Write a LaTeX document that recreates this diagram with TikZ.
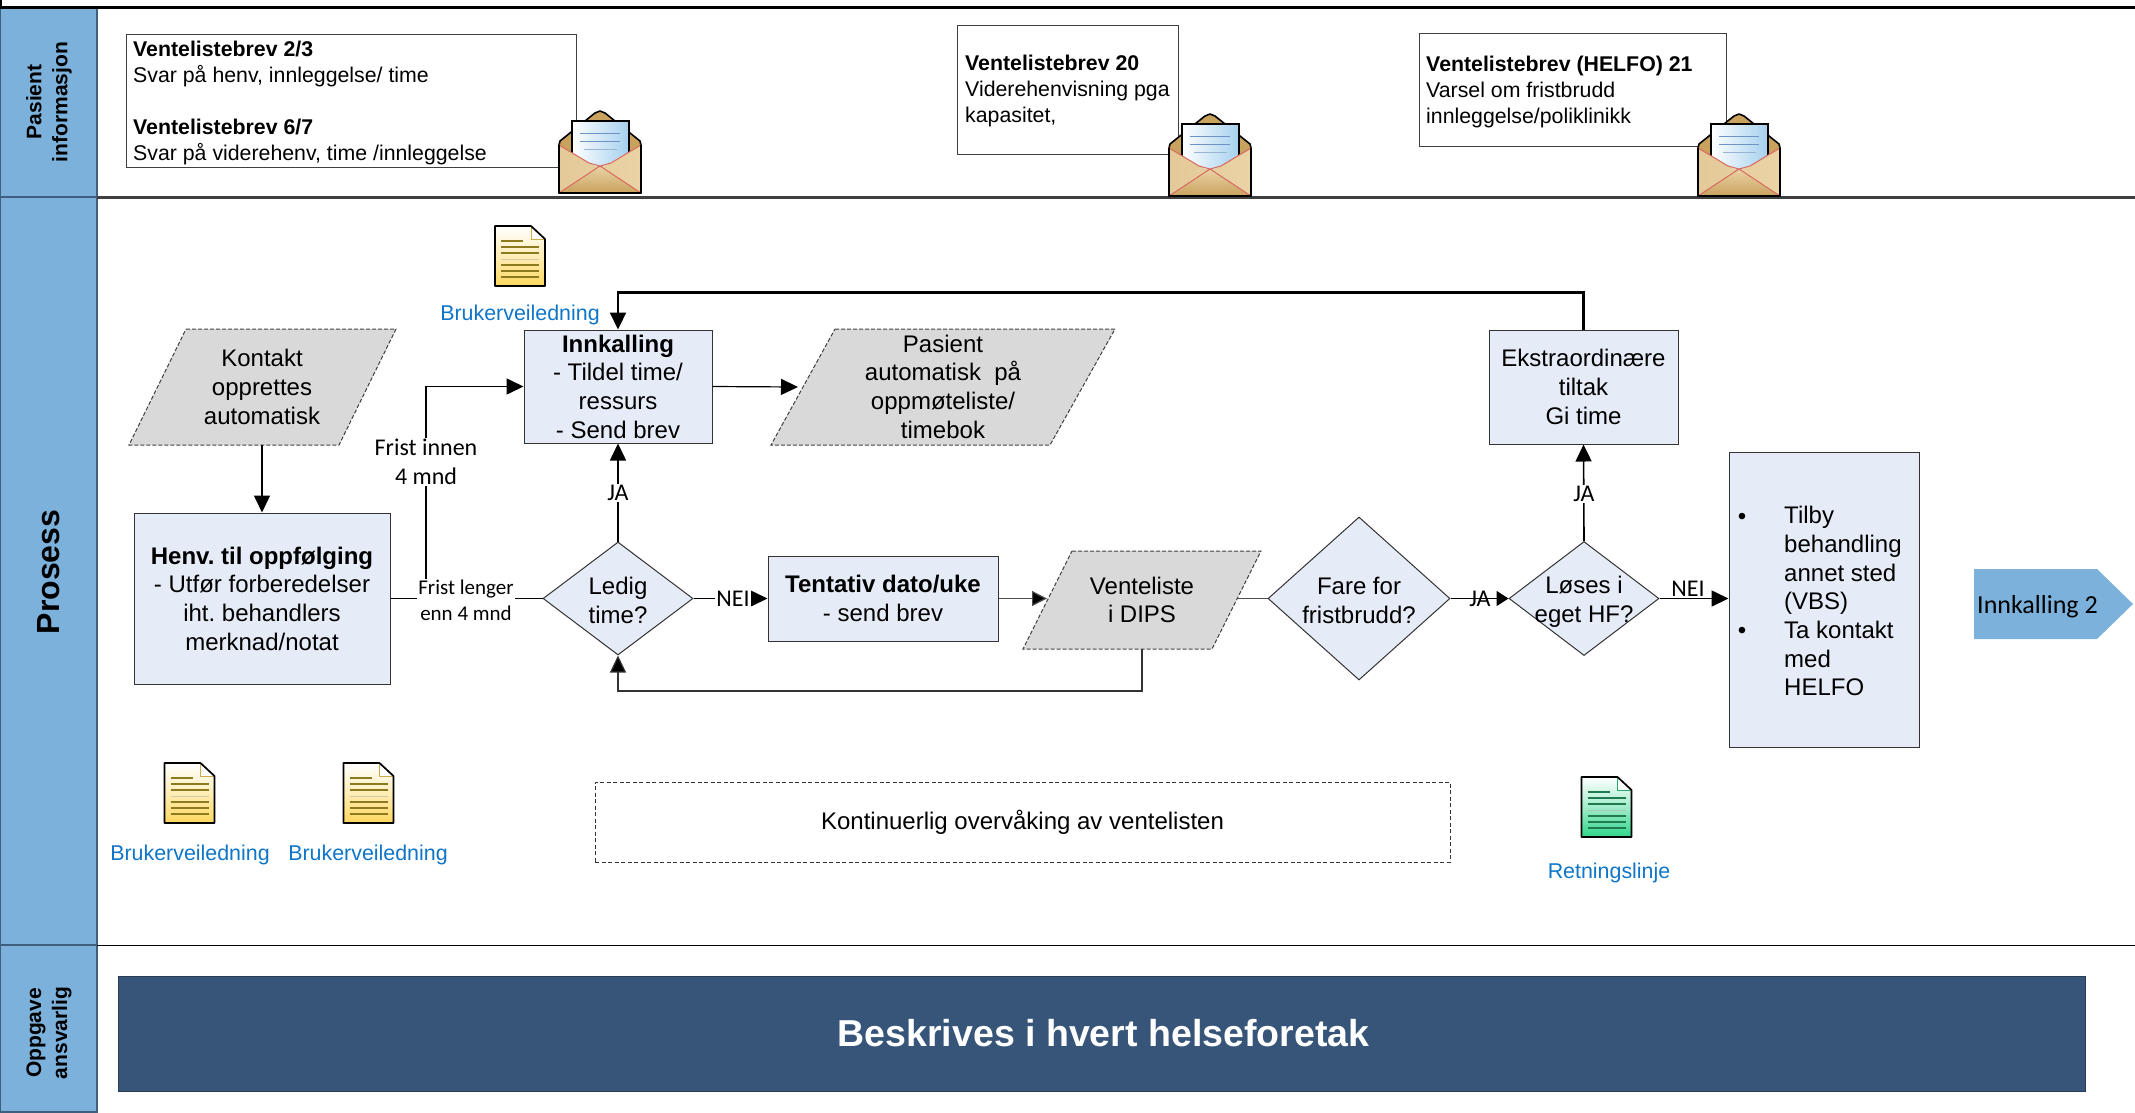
\documentclass[tikz,border=0pt]{standalone}
\usepackage{fontspec}
\setmainfont{Liberation Sans}
\newfontfamily\carl{Carlito}
\usetikzlibrary{shapes.geometric,arrows.meta}
\frenchspacing
\definecolor{hdr}{HTML}{7BB1DB}
\definecolor{hdrline}{HTML}{3F5F7F}
\definecolor{boxfill}{HTML}{E6ECF7}
\definecolor{parafill}{HTML}{D9D9D9}
\definecolor{linkblue}{HTML}{0F75C8}
\definecolor{banner}{HTML}{375579}
\definecolor{envred}{HTML}{D9695F}
\definecolor{tanA}{HTML}{C9A25D}
\definecolor{tanB}{HTML}{EAD3A6}
\definecolor{docyel}{HTML}{FFD75E}
\definecolor{docyelline}{HTML}{8B7A1E}
\definecolor{docgrn}{HTML}{2FD58A}
\definecolor{docgrnline}{HTML}{1F7A50}
\definecolor{paperblue}{HTML}{A5D0EE}
\definecolor{paperline}{HTML}{6F93C4}
\newcommand{\fs}[2]{\fontsize{#1}{#2}\selectfont}
\tikzset{
  x=1pt,y=-1pt,
  band/.style={fill=hdr,draw=hdrline,line width=1.5pt},
  hdrtext/.style={font=\fs{21}{26}\bfseries,rotate=90,align=center,text=black},
  letterbox/.style={draw=black!75,fill=white,line width=1pt},
  lettertext/.style={font=\fs{21.3}{26},align=left,anchor=north west,inner sep=0pt},
  procbox/.style={draw=black!80,fill=boxfill,line width=1pt,font=\fs{24}{28.7},align=center,inner sep=0pt},
  decision/.style={diamond,draw=black!80,fill=boxfill,line width=1pt,inner sep=0pt},
  maintext/.style={font=\fs{24}{28.7},align=center,inner sep=0pt},
  parashape/.style={draw=black!75,fill=parafill,line width=1pt,dash pattern=on 4pt off 2pt},
  conn/.style={draw=black,line width=1.6pt},
  thinconn/.style={draw=black!70,line width=1.2pt},
  arr/.style={conn,-{Triangle[length=17pt,width=16pt]}},
  clabel/.style={fill=white,font=\carl\fs{24}{29},align=center,inner sep=1pt},
  slabel/.style={fill=white,font=\carl\fs{21}{26},align=center,inner sep=1pt},
  linktext/.style={font=\fs{21.4}{25},text=linkblue,inner sep=0pt},
}
\newcommand{\envicon}[2]{%
\begin{scope}[shift={(#1,#2)}]
  \draw[black,line width=1.6pt,line join=round,fill=tanA] (0,34) -- (1,30) -- (36,2) -- (41,0) -- (46,2) -- (81,30) -- (82,34) -- (82,82) -- (0,82) -- cycle;
  \shade[left color=white,right color=paperblue,draw=black,line width=1.6pt] (13,56) -- (13,10) -- (70,10) -- (70,56) -- cycle;
  \draw[paperline,line width=.8pt] (21,22) -- (61,22) (21,30) -- (61,30);
  \draw[paperline!70,line width=.9pt] (25,38) -- (58,38);
  \shade[left color=tanB!80!tanA,right color=tanB] (0,34) -- (36,55) -- (46,55) -- (82,34) -- (82,82) -- (0,82) -- cycle;
  \shade[bottom color=tanA,top color=tanB] (41,55) -- (82,82) -- (0,82) -- cycle;
  \draw[envred,line width=1pt] (0,34) -- (30,52) -- (41,55) -- (52,52) -- (82,34) (0,82) -- (41,55) -- (82,82);
  \draw[black,line width=1.6pt,line join=round] (0,34) -- (0,82) -- (82,82) -- (82,34);
\end{scope}}
\newcommand{\docicon}[4]{%
\begin{scope}[shift={(#1,#2)}]
  \shade[top color=white,bottom color=#3,middle color=#3!45] (0,0) -- (36,0) -- (50,13) -- (50,60) -- (0,60) -- cycle;
  \fill[white] (36,0) -- (50,13) -- (36,13) -- cycle;
  \draw[#3!80!black,line width=1pt] (36,0) -- (36,13) -- (50,13);
  \draw[#4,line width=1.3pt] (6,15) -- (28,15) (6,21) -- (44,21) (6,27) -- (44,27);
  \draw[#4!40,line width=1pt] (6,33) -- (44,33);
  \draw[#4,line width=1.3pt] (6,39) -- (44,39) (6,45) -- (44,45) (6,51) -- (44,51);
  \draw[black,line width=1.7pt,line join=round] (0,0) -- (36,0) -- (50,13) -- (50,60) -- (0,60) -- cycle;
\end{scope}}
\begin{document}
\begin{tikzpicture}
\useasboundingbox (0,0) rectangle (2135,1112);
% header column
\path[band] (0,7) rectangle (97,197);
\path[band] (0,197) rectangle (97,945);
\path[band] (0,945) rectangle (97,1112);
\node[hdrtext] (hpas) at (49,102) {Pasient\\informasjon};
\node[hdrtext,font=\fs{32}{36}\bfseries] (hpro) at (49,572) {Prosess};
\node[hdrtext] (hopp) at (49,1033) {Oppgave\\ansvarlig};
% separators
\draw[black,line width=3pt] (0,7) -- (2135,7);
\draw[black,line width=2pt] (1,0) -- (1,7);
\draw[black!75,line width=3pt] (97,197) -- (2135,197);
\draw[black,line width=1.5pt] (97,945.5) -- (2135,945.5);
% letters
\path[letterbox] (126,34) rectangle (576,167);
\node[lettertext] (l1) at (133,40.5) {\textbf{Ventelistebrev 2/3}\\Svar på henv, innleggelse/ time\\[26pt]\textbf{Ventelistebrev 6/7}\\Svar på viderehenv, time /innleggelse};
\envicon{559}{111}
\path[letterbox] (957,25) rectangle (1178,154);
\node[lettertext] (l2) at (965,55) {\textbf{Ventelistebrev 20}\\Viderehenvisning pga\\kapasitet,};
\envicon{1169}{114}
\path[letterbox] (1419,33) rectangle (1726,146);
\node[lettertext] (l3) at (1426,56) {\textbf{Ventelistebrev (HELFO) 21}\\Varsel om fristbrudd\\innleggelse/poliklinikk};
\envicon{1698}{114}
% document icons
\docicon{495}{226}{docyel}{docyelline}
\docicon{164.5}{763}{docyel}{docyelline}
\docicon{343.5}{763}{docyel}{docyelline}
\docicon{1581.5}{777}{docgrn}{docgrnline}
\node[linktext] (d1) at (520,315) {Brukerveiledning};
\node[linktext] (d2) at (190,854.5) {Brukerveiledning};
\node[linktext] (d3) at (368,854.5) {Brukerveiledning};
\node[linktext] (d4) at (1609,872.5) {Retningslinje};
% process boxes
\node[procbox,minimum width=188pt,minimum height=113pt] (innk) at (618,386.5) {\textbf{Innkalling}\\- Tildel time/\\ressurs\\- Send brev};
\node[procbox,minimum width=256pt,minimum height=171pt] (henv) at (262,598.5) {\textbf{Henv. til oppfølging}\\- Utfør forberedelser\\iht. behandlers\\merknad/notat};
\node[procbox,minimum width=230pt,minimum height=85pt] (tent) at (883,598.5) {\textbf{Tentativ dato/uke}\\- send brev};
\node[procbox,minimum width=189pt,minimum height=114pt] (ekstra) at (1583.5,387) {Ekstraordinære\\tiltak\\Gi time};
\node[procbox,minimum width=190pt,minimum height=295pt] (tilby) at (1824,599.5) {};
\node[maintext,anchor=north west,align=left] (tilbytxt) at (1784,506) {Tilby\\behandling\\annet sted\\(VBS)\\Ta kontakt\\med\\HELFO};
\node[maintext] (b1) at (1742,519) {•};
\node[maintext] (b2) at (1742,633) {•};
% decisions
\node[decision,minimum width=150pt,minimum height=113pt] (ledig) at (618,598.5) {};
\node[maintext,yshift=-2pt] (ledigt) at (ledig) {Ledig\\time?};
\node[decision,minimum width=182pt,minimum height=163pt] (fare) at (1359,598.5) {};
\node[maintext,yshift=-2pt] (faret) at (fare) {Fare for\\fristbrudd?};
\node[decision,minimum width=150pt,minimum height=114pt] (loses) at (1584,598.5) {};
\node[maintext,yshift=-3pt] (losest) at (loses) {Løses i\\eget HF?};
% parallelograms
\path[parashape] (186,329) -- (396,329) -- (339,445) -- (129,445) -- cycle;
\node[maintext] (kont) at (262,387) {Kontakt\\opprettes\\automatisk};
\coordinate (konts) at (262,445);
\path[parashape] (835,329) -- (1115,329) -- (1050,445) -- (771,445) -- cycle;
\node[maintext] (pas) at (943,386.5) {Pasient\\automatisk\ \ på\\oppmøteliste/\\timebok};
\coordinate (pasw) at (798,387);
\path[parashape] (1072,551) -- (1261,551) -- (1212,649) -- (1023,649) -- cycle;
\node[maintext] (vent) at (1142,600) {Venteliste\\i DIPS};
\coordinate (ventw) at (1047,598.5);
\coordinate (vente) at (1237,598.5);
\coordinate (vents) at (1142,649);
% dashed monitoring box
\node[draw=black!80,dash pattern=on 4pt off 2.5pt,line width=1pt,minimum width=855pt,minimum height=80pt,font=\fs{24}{29}] (mon) at (1022.5,822) {\raisebox{-1pt}{Kontinuerlig overvåking av ventelisten}};
% banner
\node[fill=banner,draw=banner!70!black,line width=1pt,minimum width=1967pt,minimum height=115pt,text=white,font=\fs{37.5}{44}\bfseries] (ban) at (1101.5,1033.5) {\hspace{4pt}Beskrives i hvert helseforetak};
% end arrow
\path[fill=hdr] (1974,569) -- (2097,569) -- (2133,604) -- (2097,639) -- (1974,639) -- cycle;
\node[font=\carl\fs{26}{30},anchor=west,inner sep=0pt] (ink2) at (1977,607) {Innkalling 2};
% connectors
\draw[arr] (konts) -- (henv.north);
\coordinate (fork) at (426,598.5);
\draw[conn] (henv.east) -- (ledig.west);
\draw[arr] (fork) |- (innk.west);
\node[clabel] (lb1) at (426,462) {Frist innen\\4 mnd};
\node[slabel] (lb2) at (466,600) {Frist lenger\\enn 4 mnd};
\draw[arr] (ledig.north) -- (innk.south);
\node[clabel] (lb3) at (618,493) {JA};
\draw[arr,line width=1.2pt] (innk.east) -- (pasw);
\draw[arr] (ledig.east) -- (tent.west);
\node[clabel] (lb4) at (733,599) {NEI};
\draw[thinconn,-{Triangle[length=15pt,width=15pt,fill=black]}] (tent.east) -- (ventw);
\draw[thinconn,black!80,-{Triangle[length=17pt,width=16pt,fill=black]}] (vents) -- ++(0,42) -| (ledig.south);
\draw[thinconn] (vente) -- (fare.west);
\draw[conn,-{Triangle[length=12pt,width=15pt]}] (fare.east) -- (loses.west);
\node[font=\carl\fs{24}{26},inner sep=0pt] (lb5) at (1480,599) {JA};
\draw[arr] (loses.north) -- (ekstra.south);
\node[clabel] (lb6) at (1584,494) {JA};
\draw[arr] (loses.east) -- (tilby.west |- loses.east);
\node[font=\carl\fs{24}{26},inner sep=0pt] (lb7) at (1688,589) {NEI};
\draw[arr,line width=2.2pt] (ekstra.north) -- ++(0,-37) -| (innk.north);
\end{tikzpicture}
\end{document}
